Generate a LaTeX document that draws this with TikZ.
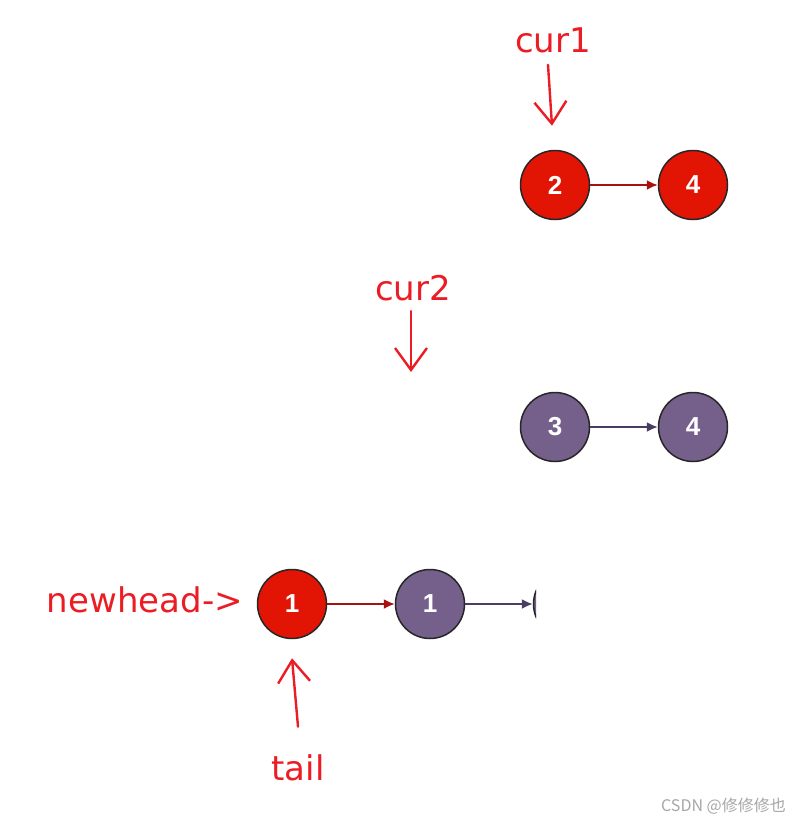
\documentclass[tikz,border=0pt]{standalone}
\usepackage{fontspec}
\setmainfont{DejaVu Sans}
\newfontfamily\numfont{Liberation Sans}
\newfontfamily\cjkfont{Noto Sans CJK SC}
\usetikzlibrary{arrows.meta, positioning, calc}

\definecolor{nodered}{RGB}{226,20,4}
\definecolor{nodepurple}{RGB}{117,96,140}
\definecolor{linkred}{RGB}{165,18,18}
\definecolor{linkpurple}{RGB}{75,60,100}
\definecolor{penred}{RGB}{236,28,36}

\begin{document}
\begin{tikzpicture}[x=1pt, y=-1pt,
  listnode/.style = {circle, draw=black!85, line width=1.5pt, minimum size=69pt, inner sep=0pt, text=white, font=\numfont\bfseries\fontsize{26}{26}\selectfont},
  rednode/.style = {listnode, fill=nodered},
  purplenode/.style = {listnode, fill=nodepurple},
  redlink/.style = {draw=linkred, line width=1.7pt, -{Latex[length=11pt, width=10pt]}},
  purplelink/.style = {draw=linkpurple, line width=1.7pt, -{Latex[length=11pt, width=10pt]}},
  marktext/.style = {text=penred, inner sep=0pt, font=\fontsize{34}{34}\selectfont},
  pointer/.style = {draw=penred, line width=2.4pt, line cap=round, line join=round, -{Straight Barb[length=22pt, width=32pt]}}
]

% Page size
\useasboundingbox (0,0) rectangle (801,824);

% First list: 2 -> 4
\node[rednode] (n2) at (555,185) {2};
\node[rednode] (n4a) at (693,185) {4};
\draw[redlink] (n2) -- (n4a);

% Second list: 3 -> 4
\node[purplenode] (n3) at (555,427) {3};
\node[purplenode] (n4b) at (693,427) {4};
\draw[purplelink] (n3) -- (n4b);

% Merged list: 1 -> 1 -> ...
\node[rednode] (h1) at (292,604) {1};
\node[purplenode] (m1) at (430,604) {1};
\begin{scope}
  \clip (500,560) rectangle (536,650);
  \node[purplenode] (m2) at (568,604) {};
\end{scope}
\draw[redlink] (h1) -- (m1);
\draw[purplelink] (m1) -- (m2);

% Pointer labels
\node[marktext] (cur1) at (553,40) {cur1};
\node[marktext] (cur2) at (413,288) {cur2};
\node[marktext, anchor=east] (newhead) at (243,600) {newhead->};
\node[marktext] (tail) at (298,768) {tail};
\coordinate (cur2tip) at (411,372);

% Hand drawn pointers
\draw[pointer] ([xshift=-5pt, yshift=-12pt]cur1.south) -- ([xshift=-3pt, yshift=24pt]n2.north);
\draw[pointer] ([xshift=-2pt, yshift=-10pt]cur2.south) -- (cur2tip);
\draw[pointer] ([yshift=28pt]tail.north) -- ([yshift=-19pt]h1.south);

% Watermark
\node[anchor=east, text=gray!70, inner sep=0pt, font=\cjkfont\fontsize{16}{16}\selectfont] (mark) at (786,806) {CSDN @修修修也};

\end{tikzpicture}
\end{document}
